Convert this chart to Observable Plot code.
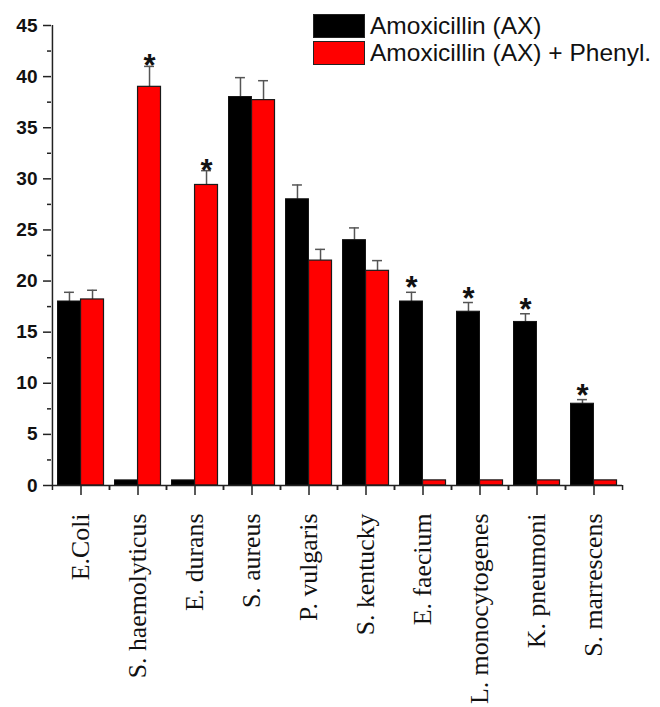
<!DOCTYPE html>
<html>
<head>
<meta charset="utf-8">
<script src="https://cdn.jsdelivr.net/npm/d3@7"></script>
<script src="https://cdn.jsdelivr.net/npm/@observablehq/plot@0.6"></script>
<style>
  html, body { margin: 0; padding: 0; background: #fff; }
  #wrap { position: relative; width: 660px; height: 707px; }
  #legend { position: absolute; left: 313px; top: 12px; font-family: "Liberation Sans", Arial, sans-serif; font-size: 24.5px; color: #111; }
  .row { display: flex; align-items: center; height: 27.5px; }
  .sw { width: 52px; height: 24px; box-sizing: border-box; border: 1px solid #222; margin-right: 5px; }
</style>
</head>
<body>
<div id="wrap">
  <div id="chart"></div>
  <div id="legend"></div>
</div>
<script>
const categories = ["E.Coli", "S. haemolyticus", "E. durans", "S. aureus", "P. vulgaris", "S. kentucky", "E. faecium", "L. monocytogenes", "K. pneumoni", "S. marrescens"];
const seriesNames = ["Amoxicillin (AX)", "Amoxicillin (AX) + Phenyl."];
const axValues = [18, 0.5, 0.5, 38, 28, 24, 18, 17, 16, 8];
const axErrors = [0.9, 0, 0, 1.9, 1.4, 1.2, 0.9, 0.9, 0.8, 0.4];
const axStar = [false, false, false, false, false, false, true, true, true, true];
const phValues = [18.2, 39, 29.4, 37.7, 22, 21, 0.5, 0.5, 0.5, 0.5];
const phErrors = [0.9, 2.0, 1.4, 1.9, 1.1, 1.0, 0, 0, 0, 0];
const phStar = [false, true, true, false, false, false, false, false, false, false];
const yTicks = [0, 5, 10, 15, 20, 25, 30, 35, 40, 45];
const yMinorTicks = [2.5, 7.5, 12.5, 17.5, 22.5, 27.5, 32.5, 37.5, 42.5];

const ax = categories.map((c, i) => ({cat: c, v: axValues[i], e: axErrors[i], star: axStar[i]}));
const ph = categories.map((c, i) => ({cat: c, v: phValues[i], e: phErrors[i], star: phStar[i]}));

const W = 660, H = 707, mL = 51, mR = 38, mT = 25, mB = 222;
const step = (W - mL - mR) / categories.length;
const pad = 5.5;
const half = step / 2;
const off = (half - pad) / 2; // bar center offset from band center
const capW = 10;

const errStroke = "#555";
const axisStroke = "#222";

const plot = Plot.plot({
  width: W,
  height: H,
  marginLeft: mL,
  marginRight: mR,
  marginTop: mT,
  marginBottom: mB,
  style: {background: "#fff", overflow: "visible"},
  x: {domain: categories, padding: 0, axis: null},
  y: {domain: [0, 45], axis: null},
  marks: [
    // error bars (behind bars)
    Plot.ruleX(ax.filter(d => d.e > 0), {x: "cat", y1: "v", y2: d => d.v + d.e, dx: -off, stroke: errStroke, strokeWidth: 1.5}),
    Plot.ruleX(ph.filter(d => d.e > 0), {x: "cat", y1: "v", y2: d => d.v + d.e, dx: off, stroke: errStroke, strokeWidth: 1.5}),
    Plot.tickY(ax.filter(d => d.e > 0), {x: "cat", y: d => d.v + d.e, insetLeft: pad + (half - pad) / 2 - capW / 2, insetRight: step - (pad + (half - pad) / 2 + capW / 2), stroke: errStroke, strokeWidth: 1.5}),
    Plot.tickY(ph.filter(d => d.e > 0), {x: "cat", y: d => d.v + d.e, insetLeft: half + (half - pad) / 2 - capW / 2, insetRight: step - (half + (half - pad) / 2 + capW / 2), stroke: errStroke, strokeWidth: 1.5}),
    // bars
    Plot.barY(ax, {x: "cat", y: "v", fill: "#000", stroke: "#111", strokeWidth: 1, insetLeft: pad, insetRight: half}),
    Plot.barY(ph, {x: "cat", y: "v", fill: "#ff0000", stroke: "#1a1a1a", strokeWidth: 1.2, insetLeft: half, insetRight: pad}),
    // significance asterisks
    Plot.text(ax.filter(d => d.star), {x: "cat", y: d => d.v + d.e, text: () => "*", dx: -off, dy: 6, lineAnchor: "bottom", fontSize: 31, fontWeight: "bold", fontFamily: "Liberation Sans, Arial, sans-serif", fill: "#111"}),
    Plot.text(ph.filter(d => d.star), {x: "cat", y: d => d.v + d.e, text: () => "*", dx: off, dy: 10, lineAnchor: "bottom", fontSize: 31, fontWeight: "bold", fontFamily: "Liberation Sans, Arial, sans-serif", fill: "#111"}),
    // y axis
    Plot.ruleX([categories[0]], {y1: 0, y2: 45, dx: -half, stroke: axisStroke, strokeWidth: 1.5}),
    Plot.axisY({ticks: yTicks, tickSize: 8, tickFormat: () => "", stroke: axisStroke, strokeWidth: 1.5, label: null}),
    Plot.axisY({ticks: yMinorTicks, tickSize: 4, tickFormat: () => "", stroke: axisStroke, strokeWidth: 1.5, label: null}),
    Plot.text(yTicks, {y: d => d, text: d => String(d), frameAnchor: "left", dx: -14, textAnchor: "end", fontSize: 19, fontWeight: "bold", fontFamily: "Liberation Sans, Arial, sans-serif", fill: "#111"}),
    // x axis
    Plot.ruleY([0], {stroke: axisStroke, strokeWidth: 1.5}),
    Plot.axisX({tickSize: 10, tickPadding: 18, tickRotate: -90, stroke: axisStroke, strokeWidth: 1.5, fontSize: 25.8, fontFamily: "Liberation Serif, Times New Roman, serif", fill: "#111", label: null}),
    Plot.axisX({tickSize: 5, tickFormat: () => "", dx: -half, stroke: axisStroke, strokeWidth: 1.5, label: null}),
    Plot.axisX({tickSize: 5, tickFormat: () => "", dx: half, stroke: axisStroke, strokeWidth: 1.5, label: null})
  ]
});
document.getElementById("chart").appendChild(plot);

const legendColors = ["#000", "#ff0000"];
const legend = document.getElementById("legend");
seriesNames.forEach((name, i) => {
  const row = document.createElement("div");
  row.className = "row";
  const sw = document.createElement("div");
  sw.className = "sw";
  sw.style.background = legendColors[i];
  const t = document.createElement("span");
  t.textContent = name;
  row.appendChild(sw);
  row.appendChild(t);
  legend.appendChild(row);
});
</script>
</body>
</html>
